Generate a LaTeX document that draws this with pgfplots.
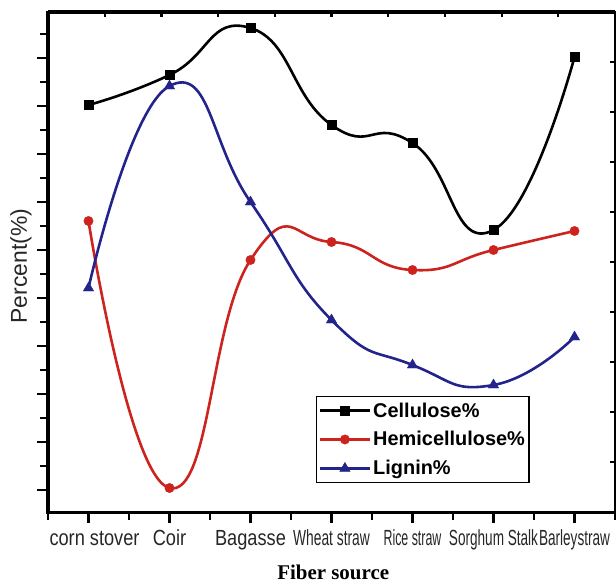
\documentclass[border=0pt]{standalone}
\usepackage{fontspec}
\setmainfont{Liberation Sans}
\newfontfamily\seriffont{Liberation Serif}
\usepackage{graphicx}
\usepackage{pgfplots}
\pgfplotsset{compat=1.18}
\definecolor{cred}{RGB}{205,35,30}
\definecolor{cblue}{RGB}{35,35,140}
\newcommand{\tl}[2]{\scalebox{#1}[1]{#2}}
\begin{document}
\begin{tikzpicture}
\useasboundingbox (-48bp,-73bp) rectangle (568bp,512bp);
\begin{axis}[
  at={(0,0)}, anchor=south west,
  width=567bp, height=500bp, scale only axis,
  xmin=0.5, xmax=7.5, ymin=0, ymax=50,
  axis line style={line width=3bp},
  xtick={1,...,7},
  minor xtick={0.5,1.5,2.5,3.5,4.5,5.5,6.5,7.5},
  xticklabels={\hspace*{12bp}\tl{0.83}{corn stover},\tl{0.83}{Coir},\tl{0.83}{Bagasse},\tl{0.63}{Wheat straw},\tl{0.565}{Rice straw},\tl{0.62}{Sorghum Stalk},\tl{0.62}{Barleystraw}},
  xtick pos=bottom, ytick pos=left,
  ytick={2.2,7.0,11.8,16.6,21.4,26.2,31.0,35.8,40.6,45.4},
  minor ytick={4.6,9.4,14.2,19.0,23.8,28.6,33.4,38.2,43.0,47.8},
  yticklabels={},
  tick align=outside,
  major tick length=11bp, minor tick length=8bp,
  tick style={line width=2.2bp, black},
  xticklabel style={font=\fontsize{22}{24}\selectfont, text=black!85, anchor=base, yshift=-22bp},
  ylabel={Percent(\%)},
  ylabel style={at={(axis description cs:-0.0476,0.492)}, anchor=center, font=\fontsize{23}{25}\selectfont, text=black!85},
  xlabel={Fiber source},
  xlabel style={at={(axis description cs:0.503,-0.12)}, anchor=center, font=\seriffont\bfseries\fontsize{21}{23}\selectfont},
  legend image code/.code={\draw[mark repeat=2,mark phase=2,#1] plot coordinates {(0bp,0bp) (25bp,0bp) (50bp,0bp)};},
  legend style={at={(0.4727,0.232)}, anchor=north west, draw=black, line width=1.2bp,
    font=\bfseries\fontsize{20}{22}\selectfont, inner xsep=2bp, inner ysep=4bp, row sep=9bp,
    cells={anchor=west}},
  legend cell align=left,
]
\addplot[black, line width=2.6bp, smooth, tension=0.9, mark=square*, mark size=4.4bp, mark options={line width=0.4bp, fill=black}]
  coordinates {(1,40.7) (2,43.7) (3,48.4) (4,38.7) (5,36.9) (6,28.2) (7,45.5)};
\addlegendentry{Cellulose\%}
\addplot[cred, line width=2.6bp, smooth, tension=0.9, mark=*, mark size=4.7bp, mark options={line width=0.4bp, fill=cred}]
  coordinates {(1,29.1) (2,2.4) (3,25.2) (4,27.0) (5,24.2) (6,26.2) (7,28.1)};
\addlegendentry{Hemicellulose\%}
\addplot[cblue, line width=2.6bp, smooth, tension=0.9, mark=triangle*, mark size=6bp, mark options={line width=0.4bp, fill=cblue}]
  coordinates {(1,22.4) (2,42.6) (3,31.0) (4,19.2) (5,14.7) (6,12.7) (7,17.5)};
\addlegendentry{Lignin\%}
\end{axis}
\begin{axis}[
  at={(0,0)}, anchor=south west,
  width=567bp, height=500bp, scale only axis,
  xmin=0, xmax=10, ymin=0, ymax=50,
  axis x line*=top, axis y line*=right,
  axis line style={line width=3bp, -},
  xtick={1,...,9}, ytick={5,10,...,45},
  xticklabels={}, yticklabels={},
  tick align=inside, major tick length=5bp,
  tick style={line width=2.2bp, black},
]
\end{axis}
\end{tikzpicture}
\end{document}
